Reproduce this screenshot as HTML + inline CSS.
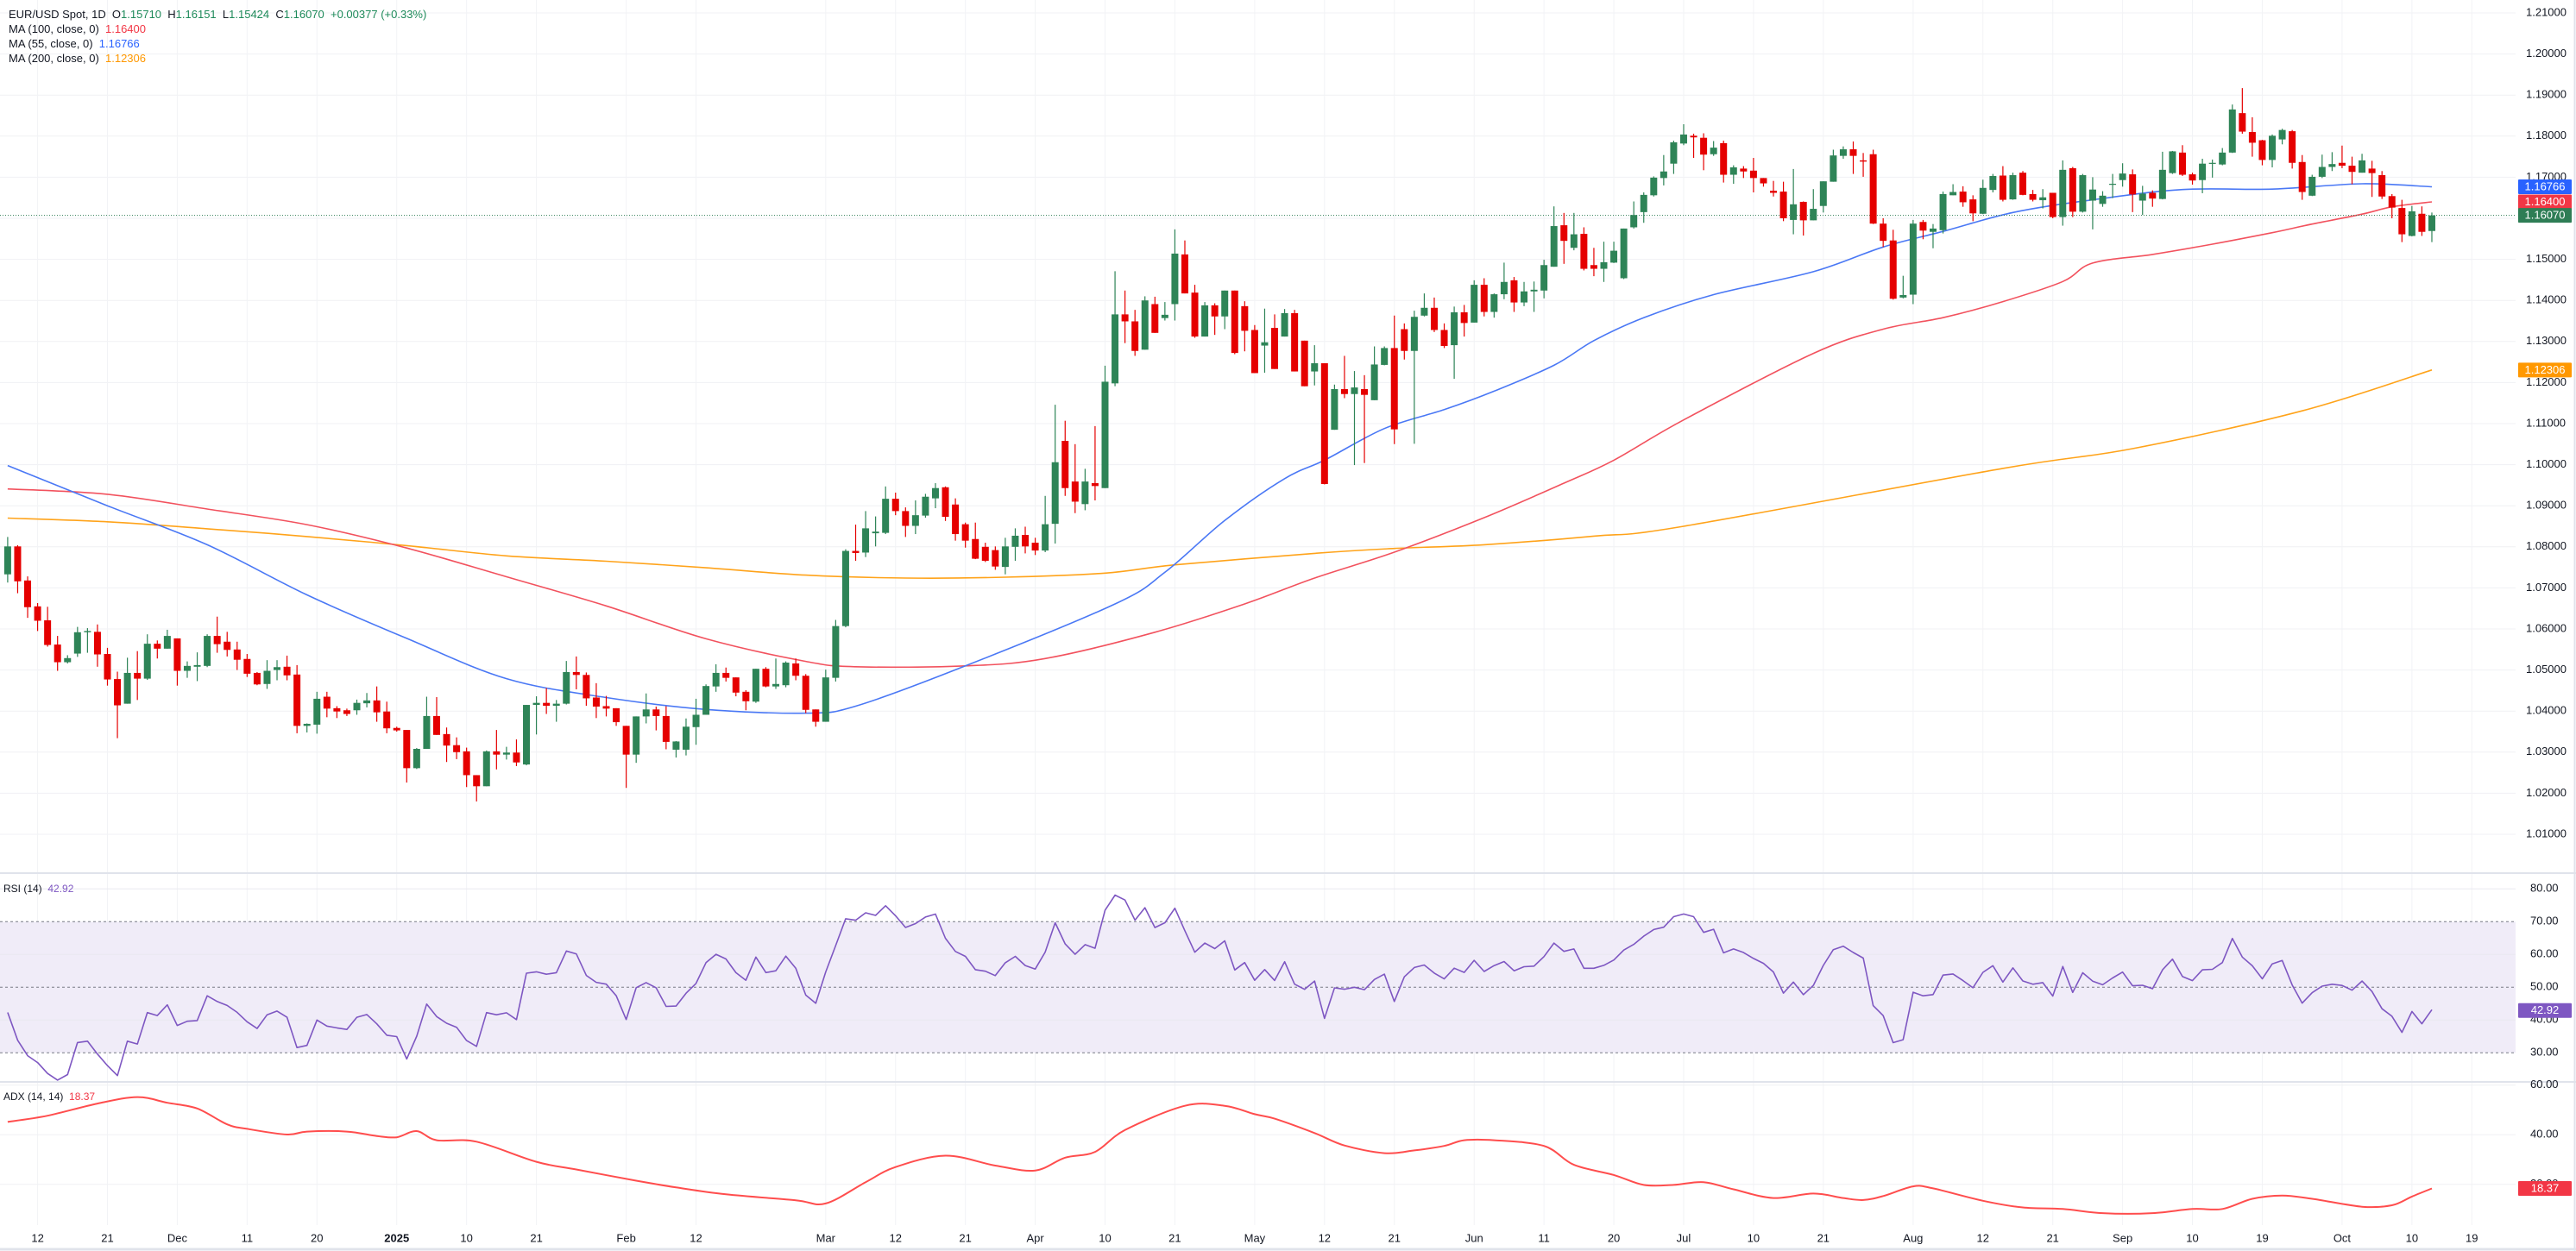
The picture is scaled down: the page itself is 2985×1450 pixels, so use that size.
<!DOCTYPE html>
<html><head><meta charset="utf-8"><title>EUR/USD Spot 1D</title>
<style>
html,body{margin:0;padding:0;background:#fff;}
svg{display:block;font-family:"Liberation Sans",Arial,sans-serif;}
#legend text{white-space:pre;}
</style></head>
<body>
<svg id="chart" width="2985" height="1450" viewBox="0 0 2985 1450" xmlns="http://www.w3.org/2000/svg">
<rect x="0" y="0" width="2985" height="1450" fill="#ffffff"/>
<g id="grid"></g>
<g id="rsiBg"></g>
<g id="mas"></g>
<g id="candles"></g>
<g id="ind"></g>
<g id="axes"></g>
<g id="legend" font-size="13" fill="#131722">
<text x="10" y="21" xml:space="preserve">EUR/USD Spot, 1D  O<tspan fill="#1e8a5a">1.15710</tspan>  H<tspan fill="#1e8a5a">1.16151</tspan>  L<tspan fill="#1e8a5a">1.15424</tspan>  C<tspan fill="#1e8a5a">1.16070</tspan>  <tspan fill="#1e8a5a">+0.00377 (+0.33%)</tspan></text>
<text x="10" y="38" xml:space="preserve">MA (100, close, 0)  <tspan fill="#f23645">1.16400</tspan></text>
<text x="10" y="55" xml:space="preserve">MA (55, close, 0)  <tspan fill="#2962ff">1.16766</tspan></text>
<text x="10" y="72" xml:space="preserve">MA (200, close, 0)  <tspan fill="#ff9800">1.12306</tspan></text>
<text x="4" y="1034" xml:space="preserve" font-size="12">RSI (14)  <tspan fill="#7e57c2">42.92</tspan></text>
<text x="4" y="1275" xml:space="preserve" font-size="12">ADX (14, 14)  <tspan fill="#f23645">18.37</tspan></text>
</g>
</svg>
<script>
const opens=[1.0733,1.0801,1.0718,1.0655,1.0621,1.0562,1.0519,1.0540,1.0592,1.0593,1.0539,1.0478,1.0418,1.0493,1.0479,1.0564,1.0552,1.0577,1.0498,1.0508,1.0510,1.0583,1.0569,1.0550,1.0527,1.0493,1.0466,1.0500,1.0508,1.0489,1.0364,1.0367,1.0435,1.0407,1.0402,1.0402,1.0419,1.0426,1.0399,1.0359,1.0354,1.0261,1.0308,1.0388,1.0344,1.0317,1.0302,1.0244,1.0217,1.0302,1.0294,1.0299,1.0270,1.0415,1.0420,1.0413,1.0418,1.0495,1.0488,1.0433,1.0412,1.0407,1.0364,1.0294,1.0387,1.0404,1.0388,1.0306,1.0306,1.0361,1.0391,1.0460,1.0493,1.0482,1.0447,1.0423,1.0503,1.0460,1.0463,1.0516,1.0486,1.0404,1.0374,1.0481,1.0607,1.0790,
1.0786,1.0833,1.0834,1.0917,1.0887,1.0851,1.0876,1.0918,1.0945,1.0903,1.0855,1.0819,1.0800,1.0792,1.0751,1.0800,1.0829,1.0810,1.0791,1.0856,1.1058,1.0959,1.0904,1.0955,1.0943,1.1198,1.1366,1.1349,1.1280,1.1391,1.1357,1.1391,1.1512,1.1419,1.1312,1.1388,1.1361,1.1424,1.1386,1.1328,1.1290,1.1333,1.1312,1.1369,1.1302,1.1227,1.1247,1.1085,1.1184,1.1172,1.1184,1.1157,1.1243,1.1284,1.1330,1.1277,1.1363,1.1382,1.1328,1.1291,1.1371,1.1346,1.1438,1.1372,1.1415,1.1449,1.1395,1.1422,1.1424,1.1482,1.1583,1.1528,1.1562,1.1486,1.1477,1.1492,1.1454,1.1578,
1.1615,1.1656,1.1698,1.1733,1.1782,1.1801,1.1796,1.1756,1.1783,1.1706,1.1721,1.1716,1.1698,1.1667,1.1665,1.1596,1.1640,1.1595,1.1630,1.1689,1.1752,1.1768,1.1741,1.1756,1.1587,1.1546,1.1407,1.1414,1.1591,1.1567,1.1571,1.1656,1.1665,1.1646,1.1611,1.1669,1.1704,1.1646,1.1711,1.1659,1.1644,1.1662,1.1603,1.1722,1.1616,1.1643,1.1635,1.1683,1.1693,1.1707,1.1643,1.1662,1.1647,1.1710,1.1760,1.1707,1.1693,1.1734,1.1731,1.1760,1.1856,1.1810,1.1790,1.1742,1.1792,1.1812,1.1737,1.1655,1.1701,1.1725,1.1735,1.1728,1.1711,1.1721,1.1705,1.1654,1.1625,1.1557,1.1611,1.1569];
const highs=[1.0824,1.0804,1.0728,1.0663,1.0654,1.0583,1.0536,1.0605,1.0602,1.0611,1.0554,1.0496,1.0530,1.0546,1.0587,1.0572,1.0598,1.0577,1.0521,1.0543,1.0587,1.0630,1.0593,1.0569,1.0539,1.0495,1.0524,1.0524,1.0535,1.0512,1.0370,1.0447,1.0447,1.0412,1.0406,1.0428,1.0444,1.0460,1.0423,1.0362,1.0354,1.0310,1.0435,1.0434,1.0360,1.0336,1.0311,1.0244,1.0304,1.0354,1.0313,1.0331,1.0415,1.0436,1.0456,1.0427,1.0522,1.0533,1.0494,1.0468,1.0437,1.0407,1.0364,1.0387,1.0443,1.0411,1.0412,1.0327,1.0382,1.0430,1.0465,1.0514,1.0506,1.0482,1.0451,1.0503,1.0507,1.0528,1.0521,1.0528,1.0490,1.0404,1.0501,1.0622,1.0794,1.0854,
1.0887,1.0874,1.0947,1.0932,1.0896,1.0913,1.0929,1.0955,1.0947,1.0918,1.0859,1.0859,1.0810,1.0801,1.0822,1.0845,1.0849,1.0822,1.0924,1.1146,1.1107,1.1050,1.0990,1.1094,1.1241,1.1471,1.1424,1.1377,1.1410,1.1409,1.1396,1.1573,1.1546,1.1438,1.1396,1.1393,1.1424,1.1424,1.1398,1.1340,1.1380,1.1366,1.1379,1.1377,1.1302,1.1291,1.1247,1.1195,1.1265,1.1228,1.1218,1.1288,1.1288,1.1363,1.1344,1.1375,1.1417,1.1407,1.1344,1.1385,1.1389,1.1449,1.1454,1.1417,1.1492,1.1457,1.1445,1.1446,1.1499,1.1629,1.1613,1.1613,1.1578,1.1528,1.1543,1.1543,1.1575,1.1641,
1.1663,1.1702,1.1754,1.1789,1.1829,1.1806,1.1807,1.1788,1.1789,1.1729,1.1727,1.1747,1.1698,1.1691,1.1689,1.1720,1.1641,1.1671,1.1690,1.1767,1.1775,1.1787,1.1759,1.1767,1.1600,1.1572,1.1460,1.1596,1.1596,1.1586,1.1665,1.1683,1.1678,1.1656,1.1694,1.1708,1.1727,1.1711,1.1715,1.1669,1.1671,1.1662,1.1741,1.1725,1.1708,1.1700,1.1666,1.1708,1.1734,1.1719,1.1679,1.1668,1.1762,1.1764,1.1778,1.1711,1.1745,1.1743,1.1771,1.1877,1.1917,1.1846,1.1791,1.1804,1.1818,1.1815,1.1754,1.1706,1.1755,1.1761,1.1777,1.1750,1.1757,1.1740,1.1715,1.1659,1.1645,1.1630,1.1629,1.1614];
const lows=[1.0713,1.0687,1.0627,1.0595,1.0557,1.0498,1.0516,1.0532,1.0542,1.0508,1.0462,1.0334,1.0418,1.0427,1.0476,1.0528,1.0552,1.0462,1.0481,1.0473,1.0507,1.0542,1.0533,1.0500,1.0483,1.0463,1.0454,1.0475,1.0475,1.0346,1.0348,1.0345,1.0385,1.0383,1.0388,1.0391,1.0409,1.0374,1.0346,1.0350,1.0226,1.0259,1.0308,1.0342,1.0276,1.0283,1.0215,1.0180,1.0217,1.0258,1.0282,1.0266,1.0268,1.0343,1.0393,1.0374,1.0416,1.0453,1.0413,1.0383,1.0387,1.0364,1.0213,1.0274,1.0370,1.0353,1.0307,1.0287,1.0292,1.0318,1.0391,1.0447,1.0472,1.0436,1.0402,1.0420,1.0458,1.0454,1.0458,1.0475,1.0395,1.0362,1.0374,1.0472,1.0604,1.0766,
1.0775,1.0801,1.0831,1.0877,1.0824,1.0831,1.0871,1.0894,1.0863,1.0815,1.0798,1.0770,1.0763,1.0744,1.0733,1.0766,1.0784,1.0780,1.0787,1.0808,1.0924,1.0882,1.0889,1.0913,1.0943,1.1191,1.1296,1.1265,1.1280,1.1321,1.1351,1.1351,1.1417,1.1309,1.1312,1.1316,1.1330,1.1269,1.1276,1.1223,1.1224,1.1233,1.1312,1.1227,1.1191,1.1193,1.0952,1.1085,1.1162,1.0999,1.1004,1.1157,1.1242,1.1050,1.1256,1.1051,1.1361,1.1323,1.1284,1.1209,1.1312,1.1346,1.1361,1.1358,1.1403,1.1372,1.1386,1.1372,1.1405,1.1482,1.1489,1.1522,1.1473,1.1459,1.1445,1.1491,1.1452,1.1575,
1.1589,1.1653,1.1680,1.1708,1.1778,1.1747,1.1717,1.1752,1.1687,1.1684,1.1698,1.1663,1.1677,1.1653,1.1593,1.1561,1.1558,1.1595,1.1614,1.1689,1.1745,1.1708,1.1701,1.1586,1.1530,1.1402,1.1405,1.1391,1.1549,1.1527,1.1563,1.1656,1.1628,1.1593,1.1610,1.1663,1.1641,1.1645,1.1656,1.1641,1.1624,1.1600,1.1582,1.1603,1.1614,1.1573,1.1628,1.1649,1.1677,1.1615,1.1608,1.1628,1.1646,1.1708,1.1703,1.1682,1.1661,1.1699,1.1729,1.1759,1.1806,1.1750,1.1729,1.1724,1.1780,1.1721,1.1645,1.1654,1.1698,1.1715,1.1722,1.1683,1.1711,1.1652,1.1647,1.1600,1.1542,1.1556,1.1557,1.1542];
const closes=[1.0801,1.0716,1.0653,1.0620,1.0561,1.0519,1.0529,1.0592,1.0595,1.0538,1.0477,1.0414,1.0493,1.0479,1.0564,1.0552,1.0583,1.0498,1.0510,1.0512,1.0583,1.0563,1.0549,1.0525,1.0491,1.0465,1.0498,1.0507,1.0487,1.0364,1.0369,1.0430,1.0406,1.0399,1.0393,1.0420,1.0426,1.0397,1.0358,1.0353,1.0261,1.0308,1.0388,1.0342,1.0316,1.0300,1.0244,1.0217,1.0302,1.0294,1.0299,1.0275,1.0415,1.0420,1.0413,1.0418,1.0495,1.0488,1.0431,1.0411,1.0406,1.0373,1.0294,1.0387,1.0404,1.0388,1.0325,1.0326,1.0362,1.0391,1.0461,1.0493,1.0481,1.0445,1.0424,1.0503,1.0460,1.0466,1.0518,1.0486,1.0403,1.0374,1.0482,1.0607,1.0790,1.0785,
1.0845,1.0837,1.0917,1.0887,1.0851,1.0877,1.0922,1.0943,1.0873,1.0831,1.0815,1.0771,1.0766,1.0752,1.0801,1.0827,1.0801,1.0791,1.0855,1.1006,1.0943,1.0910,1.0959,1.0948,1.1202,1.1366,1.1349,1.1277,1.1400,1.1321,1.1365,1.1514,1.1417,1.1312,1.1388,1.1361,1.1424,1.1272,1.1326,1.1223,1.1298,1.1233,1.1369,1.1227,1.1191,1.1247,1.0953,1.1184,1.1172,1.1188,1.1170,1.1244,1.1284,1.1086,1.1277,1.1360,1.1382,1.1328,1.1289,1.1371,1.1345,1.1438,1.1372,1.1415,1.1445,1.1395,1.1422,1.1426,1.1486,1.1581,1.1545,1.1561,1.1477,1.1477,1.1493,1.1521,1.1575,1.1608,
1.1657,1.1699,1.1714,1.1785,1.1804,1.1797,1.1755,1.1772,1.1706,1.1724,1.1714,1.1698,1.1685,1.1662,1.1600,1.1634,1.1595,1.1623,1.1690,1.1753,1.1768,1.1752,1.1738,1.1587,1.1545,1.1404,1.1413,1.1587,1.1570,1.1575,1.1659,1.1664,1.1639,1.1612,1.1674,1.1703,1.1645,1.1705,1.1657,1.1645,1.1651,1.1603,1.1718,1.1616,1.1705,1.1670,1.1655,1.1684,1.1709,1.1658,1.1660,1.1648,1.1718,1.1763,1.1706,1.1692,1.1733,1.1735,1.1760,1.1865,1.1811,1.1784,1.1742,1.1801,1.1815,1.1735,1.1664,1.1701,1.1725,1.1732,1.1728,1.1713,1.1741,1.1710,1.1653,1.1626,1.1561,1.1617,1.1567,1.1607];

const ma55Idx=[0,10,20,30,40,50,60,70,80,85,96,111,116,122,128,132,138,144,149,155,159,164,171,181,188,194,201,209,218,227,236,243];
const ma55Val=[1.0998,1.0900,1.0805,1.0683,1.0577,1.0479,1.0433,1.0404,1.0395,1.0412,1.0510,1.0661,1.0738,1.0864,1.0966,1.1011,1.1088,1.1134,1.1179,1.1242,1.1302,1.1358,1.1414,1.1470,1.1530,1.1568,1.1614,1.1645,1.1670,1.1671,1.1684,1.16766];
const ma100Idx=[0,10,20,30,40,50,60,70,80,85,96,104,115,124,131,139,148,156,161,168,181,188,194,200,206,209,215,221,227,231,236,239,243];
const ma100Val=[1.0941,1.0928,1.0892,1.0854,1.0797,1.0727,1.0656,1.0576,1.0521,1.0508,1.0510,1.0528,1.0592,1.0661,1.0724,1.0787,1.0871,1.0955,1.1011,1.1109,1.1271,1.1330,1.1358,1.1397,1.1446,1.1491,1.1512,1.1537,1.1565,1.1586,1.1610,1.1628,1.16400];
const ma200Idx=[0,10,20,30,40,50,60,70,80,90,100,110,117,131,139,148,159,168,200,213,230,243];
const ma200Val=[1.0870,1.0861,1.0844,1.0825,1.0803,1.0778,1.0765,1.0749,1.0731,1.0724,1.0726,1.0736,1.0756,1.0784,1.0796,1.0805,1.0826,1.0850,1.0991,1.1039,1.1131,1.12306];
const adxIdx=[0,4,9,13,16,19,22,24,28,30,34,37,39,41,43,47,53,57,63,67,72,79,82,86,89,94,99,103,106,109,112,118,122,125,127,131,134,138,141,144,146,149,154,157,161,164,167,170,173,177,181,184,186,188,191,193,198,202,206,210,215,219,222,225,228,231,236,239,241,243];
const adxVal=[45.2,47.7,52.6,55.2,52.9,50.6,44.2,42.4,40.1,41.3,41.3,39.5,39.0,41.5,37.8,37.2,29.1,26.0,21.5,18.8,16.0,13.6,12.3,20.9,27.0,31.6,27.6,25.6,30.8,33.1,41.9,51.7,51.7,48.3,46.5,40.7,35.7,32.6,33.7,35.5,37.8,37.8,35.5,27.9,23.8,19.8,19.8,20.9,18.0,14.5,16.3,14.5,13.7,15.3,19.2,18.4,13.4,10.7,10.1,8.4,8.4,10.1,10.1,14.2,15.5,14.2,11.0,11.6,15.1,18.37];
const rsiLast=[42.92];
const priceTicks=[1.21,1.20,1.19,1.18,1.17,1.16,1.15,1.14,1.13,1.12,1.11,1.10,1.09,1.08,1.07,1.06,1.05,1.04,1.03,1.02,1.01];
const rsiTicks=[80,70,60,50,40,30];
const adxTicks=[60,40,20];
const dateLabels=["12","21","Dec","11","20","2025","10","21","Feb","12","Mar","12","21","Apr","10","21","May","12","21","Jun","11","20","Jul","10","21","Aug","12","21","Sep","10","19","Oct","10","19"];
const dateIdx=[3,10,17,24,31,39,46,53,62,69,82,89,96,103,110,117,125,132,139,147,154,161,168,175,182,191,198,205,212,219,226,234,241,247];

const NS="http://www.w3.org/2000/svg";
const PLOT_R=2915;
function bx(i){return 8.9+11.56*i;}
function py(p){return 15+(1.21-p)*4760;}
function ry(v){return 1144.3-(v-50)*3.8;}
function ay(v){return 1315.3-(v-40)*2.875;}
function mk(tag,attrs,parent){const e=document.createElementNS(NS,tag);for(const k in attrs)e.setAttribute(k,attrs[k]);parent.appendChild(e);return e;}
const grid=document.getElementById('grid'),rsiBg=document.getElementById('rsiBg'),mas=document.getElementById('mas'),cg=document.getElementById('candles'),ind=document.getElementById('ind'),axes=document.getElementById('axes');

function smooth(pts){
  let d='M'+pts[0][0].toFixed(1)+','+pts[0][1].toFixed(1);
  for(let k=0;k<pts.length-1;k++){
    const p0=pts[Math.max(0,k-1)],p1=pts[k],p2=pts[k+1],p3=pts[Math.min(pts.length-1,k+2)];
    const c1x=p1[0]+(p2[0]-p0[0])/6,c1y=p1[1]+(p2[1]-p0[1])/6;
    const c2x=p2[0]-(p3[0]-p1[0])/6,c2y=p2[1]-(p3[1]-p1[1])/6;
    d+='C'+c1x.toFixed(1)+','+c1y.toFixed(1)+' '+c2x.toFixed(1)+','+c2y.toFixed(1)+' '+p2[0].toFixed(1)+','+p2[1].toFixed(1);
  }
  return d;
}

priceTicks.forEach(t=>{const l=mk('line',{x1:0,x2:PLOT_R,y1:py(t),y2:py(t),stroke:'#f0f1f4','stroke-width':1},grid);

});
dateIdx.forEach(i=>{const l=mk('line',{x1:bx(i),x2:bx(i),y1:0,y2:1420,stroke:'#f2f3f6','stroke-width':1},grid);

});
[1012,1254].forEach(y=>{const l=mk('line',{x1:0,x2:2985,y1:y,y2:y,stroke:'#e0e3eb','stroke-width':2},grid);

});
const bl=mk('line',{x1:0,x2:2985,y1:1448,y2:1448,stroke:'#e0e3eb','stroke-width':3},grid);


const rb=mk('line',{x1:2983.5,x2:2983.5,y1:0,y2:1450,stroke:'#e0e3eb','stroke-width':2},grid);



const band=mk('rect',{x:0,y:ry(70),width:PLOT_R,height:ry(30)-ry(70),fill:'#f0ecf8'},rsiBg);


[80,60,40].forEach(v=>{const l=mk('line',{x1:0,x2:PLOT_R,y1:ry(v),y2:ry(v),stroke:'#e9e8f0','stroke-width':1},rsiBg);

});
[70,50,30].forEach(v=>{const l=mk('line',{x1:0,x2:PLOT_R,y1:ry(v),y2:ry(v),stroke:'#787b86','stroke-width':1,'stroke-dasharray':'3,3'},rsiBg);

});
adxTicks.forEach(v=>{const l=mk('line',{x1:0,x2:PLOT_R,y1:ay(v),y2:ay(v),stroke:'#f0f1f4','stroke-width':1},rsiBg);

});

function maPath(idx,val,color,name){
  const pts=idx.map((i,k)=>[bx(i),py(val[k])]);
  const p=mk('path',{d:smooth(pts),fill:'none',stroke:color,'stroke-width':1.6,'stroke-linejoin':'round'},mas);
  
  
}
maPath(ma200Idx,ma200Val,'#ffa31a','ma200-line');
maPath(ma100Idx,ma100Val,'#f2525e','ma100-line');
maPath(ma55Idx,ma55Val,'#4a78f5','ma55-line');

const lastC=closes[closes.length-1];
const lp=mk('line',{x1:0,x2:PLOT_R,y1:py(lastC),y2:py(lastC),stroke:'#2e7d55','stroke-width':1,'stroke-dasharray':'1,2'},mas);



closes.forEach((c,i)=>{
  const o=opens[i],h=highs[i],l=lows[i];const up=c>=o;const col=up?'#2e8457':'#e50000';
  const x=bx(i);
  const w=mk('line',{x1:x,x2:x,y1:py(h),y2:py(l),stroke:col,'stroke-width':1.2},cg);
  
  
  const top=py(Math.max(o,c)),bot=py(Math.min(o,c));
  const b=mk('rect',{x:x-4,y:top,width:8,height:Math.max(1.2,bot-top),fill:col},cg);
  
  
});

let avgG=0.0011,avgL=0.0015;const rsi=[];
closes.forEach((c,i)=>{
  if(i>0){const ch=c-closes[i-1];avgG=(avgG*13+Math.max(ch,0))/14;avgL=(avgL*13+Math.max(-ch,0))/14;}
  rsi.push(100-100/(1+avgG/avgL));
});
let rd='';rsi.forEach((v,i)=>{rd+=(i?'L':'M')+bx(i).toFixed(1)+','+ry(v).toFixed(1);});
const rl=mk('path',{d:rd,fill:'none',stroke:'#7e57c2','stroke-width':1.6,'stroke-linejoin':'round'},ind);


const adxPts=adxIdx.map((i,k)=>[bx(i),ay(adxVal[k])]);
const al=mk('path',{d:smooth(adxPts),fill:'none',stroke:'#ff4d4d','stroke-width':2,'stroke-linejoin':'round'},ind);



function label(x,y,txt,anchor,size,fill){const t=mk('text',{x:x,y:y,'text-anchor':anchor,'font-size':size,fill:fill||'#131722','dominant-baseline':'middle'},axes);t.textContent=txt;return t;}
priceTicks.forEach(t=>{const e=label(2927,py(t),t.toFixed(5),'start',13);

});
rsiTicks.forEach(v=>{const e=label(2932,ry(v),v.toFixed(2),'start',13);

});
adxTicks.forEach(v=>{const e=label(2932,ay(v),v.toFixed(2),'start',13);

});
dateLabels.forEach((s,k)=>{const e=label(bx(dateIdx[k]),1436,s,'middle',13);
if(s==='2025')e.setAttribute('font-weight','bold');

});

function badge(y,txt,color,name){
  const r=mk('rect',{x:2918,y:y-8.5,width:62,height:17,fill:color,rx:1},axes);
  
  
  const t=label(2949,y+0.5,txt,'middle',13,'#ffffff');
  
  
}
badge(py(ma55Val[ma55Val.length-1]),ma55Val[ma55Val.length-1].toFixed(5),'#2962ff','ma55');
badge(py(ma100Val[ma100Val.length-1]),ma100Val[ma100Val.length-1].toFixed(5),'#f23645','ma100');
badge(py(lastC),lastC.toFixed(5),'#2e7d55','last-price');
badge(py(ma200Val[ma200Val.length-1]),ma200Val[ma200Val.length-1].toFixed(5),'#ff9800','ma200');
badge(ry(rsiLast[0]),rsiLast[0].toFixed(2),'#7e57c2','rsi');
badge(ay(adxVal[adxVal.length-1]),adxVal[adxVal.length-1].toFixed(2),'#f23645','adx');
</script>
</body></html>
